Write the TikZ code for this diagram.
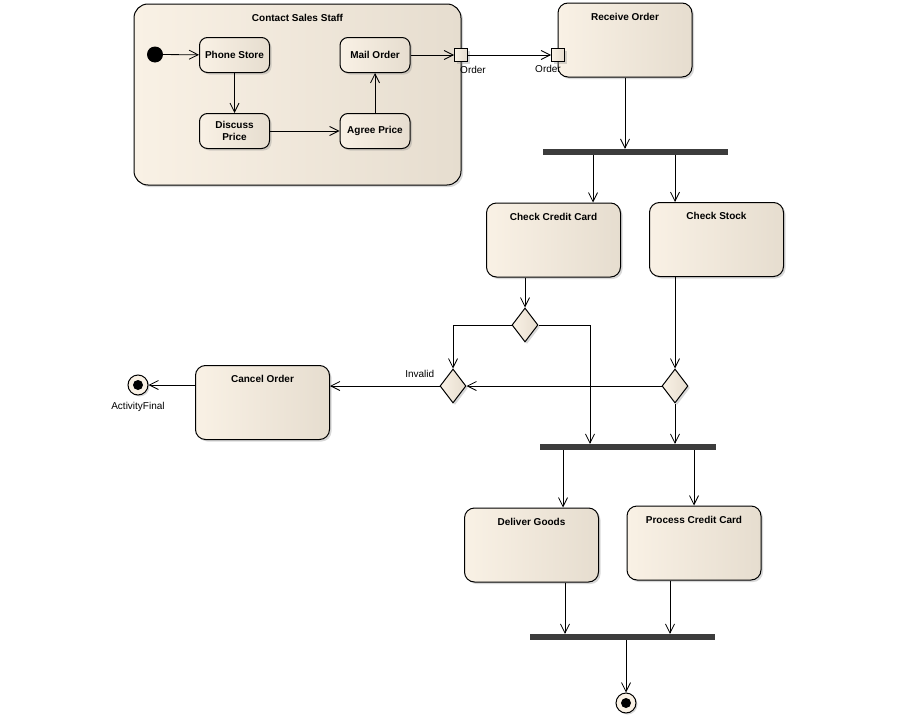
\documentclass[tikz,border=0pt]{standalone}
\usepackage{fontspec}
\setmainfont{Liberation Sans}
\usepackage{xcolor}
\usepackage{tikz}
\usetikzlibrary{arrows.meta}
\usetikzlibrary{shapes.geometric}
\usetikzlibrary{shadows}
\definecolor{act_light}{RGB}{249, 241, 229}
\definecolor{act_dark}{RGB}{230, 221, 207}
\definecolor{bar_color}{RGB}{60, 60, 60}

\begin{document}
\begin{tikzpicture}[
    x=1pt, y=-1pt,
    box/.style={draw, line width=1pt, left color=act_light, right color=act_dark,
                drop shadow={shadow xshift=2pt, shadow yshift=-2pt, opacity=0.3}},
    action/.style={box, rounded corners=10pt, minimum width=134pt,
                   minimum height=74pt, inner sep=0pt},
    inner_act/.style={box, rounded corners=8pt, minimum width=70pt,
                      minimum height=35pt, inner sep=0pt, align=center,
                      font=\bfseries\fontsize{10}{12}\selectfont},
    title/.style={font=\bfseries\fontsize{10}{12}\selectfont, anchor=center,
                  yshift=-14pt, inner sep=0pt},
    decision/.style={box, diamond, minimum width=26pt, minimum height=34pt,
                     inner sep=0pt},
    bar/.style={fill=bar_color, minimum height=6pt, inner sep=0pt},
    pin/.style={box, minimum size=13pt, inner sep=0pt},
    start/.style={circle, fill=black, minimum size=16pt, inner sep=0pt},
    final/.style={circle, draw, line width=1pt, fill=act_light, minimum size=20pt,
                  inner sep=0pt, drop shadow={shadow xshift=1.5pt,
                  shadow yshift=-1.5pt, opacity=0.3},
                  path picture={\fill[black] (path picture bounding box.center)
                  circle (5pt);}},
    lbl/.style={font=\fontsize{10}{12}\selectfont, inner sep=1pt},
    flow/.style={line width=0.8pt, -{Straight Barb[length=9pt, width=9pt]}}]
    \fill[white] (0,0) rectangle (900,720);
    \useasboundingbox (0,0) rectangle (900,720);

    % contact sales staff
    \node[box, rounded corners=14pt, minimum width=327pt, minimum height=181pt,
          label={[title]north:Contact Sales Staff}] (sales) at (297.5,94.5) {};
    \node[start] (init) at (155,54.5) {};
    \node[inner_act] (phone) at (234.5,55) {Phone Store};
    \node[inner_act] (discuss) at (234.5,131) {Discuss\\Price};
    \node[inner_act] (mail) at (375,55) {Mail Order};
    \node[inner_act] (agree) at (375,131) {Agree Price};
    \node[pin, label={[lbl, anchor=north, xshift=12pt, yshift=-3pt]south:Order}]
      (pin_out) at (461,55) {};

    % order handling
    \node[action, label={[title]north:Receive Order}] (receive) at (625,40) {};
    \node[pin, label={[lbl, anchor=north, xshift=-10pt, yshift=-2pt]south:Order}]
      (pin_in) at (558,55) {};
    \node[bar, minimum width=185pt] (fork1) at (635.5,152) {};
    \node[action, label={[title]north:Check Credit Card}] (credit) at (553.5,240) {};
    \node[action, label={[title]north:Check Stock}] (stock) at (716.5,239.5) {};
    \node[decision] (dec1) at (525,325) {};
    \node[decision] (dec2) at (453,386) {};
    \node[decision] (dec3) at (675,386) {};
    \node[action, label={[title]north:Cancel Order}] (cancel) at (262.5,402.5) {};
    \node[final, label={[lbl, yshift=-6pt]below:ActivityFinal}] (fin1) at (138,385) {};
    \node[bar, minimum width=176pt] (fork2) at (628,447) {};
    \node[action, label={[title]north:Deliver Goods}] (deliver) at (531.5,545) {};
    \node[action, label={[title]north:Process Credit Card}] (process) at (694,543) {};
    \node[bar, minimum width=185pt] (fork3) at (622.5,637) {};
    \node[final] (fin2) at (626,703) {};

    \coordinate (credit_in) at ([xshift=39.5pt]credit.north);
    \coordinate (stock_in) at ([xshift=-41.5pt]stock.north);
    \coordinate (split) at ([xshift=-38pt]fork2.north);
    \coordinate (deliver_in) at ([xshift=31.5pt]deliver.north);
    \coordinate (deliver_out) at ([xshift=33.5pt]deliver.south);
    \coordinate (process_out) at ([xshift=-24pt]process.south);

    \draw[flow] (init) -- (phone);
    \draw[flow] (phone) -- (discuss);
    \draw[flow] (discuss) -- (agree);
    \draw[flow] (agree) -- (mail);
    \draw[flow] (mail) -- (pin_out);
    \draw[flow] (pin_out) -- (pin_in);
    \draw[flow] (receive.south) -- (receive.south |- fork1.north);
    \draw[flow] (fork1.south -| credit_in) -- (credit_in);
    \draw[flow] (fork1.south -| stock_in) -- (stock_in);
    \draw[flow] (dec1.north |- credit.south) -- (dec1.north);
    \draw[flow] (dec1.west) -| (dec2.north);
    \draw[flow] (dec1.east) -| (split);
    \draw[flow] (dec3.north |- stock.south) -- (dec3.north);
    \draw[flow] (dec3.west) -- (dec2.east);
    \draw[flow] (dec3.south) -- (dec3.south |- fork2.north);
    \draw[flow] (dec2.west) -- node[lbl, above=7pt, pos=0.18] (invalid) {Invalid}
      (dec2.west -| cancel.east);
    \draw[flow] (cancel.west |- fin1) -- (fin1);
    \draw[flow] (fork2.south -| deliver_in) -- (deliver_in);
    \draw[flow] (fork2.south -| process.north) -- (process.north);
    \draw[flow] (deliver_out) -- (deliver_out |- fork3.north);
    \draw[flow] (process_out) -- (process_out |- fork3.north);
    \draw[flow] (fin2 |- fork3.south) -- (fin2);
\end{tikzpicture}
\end{document}
